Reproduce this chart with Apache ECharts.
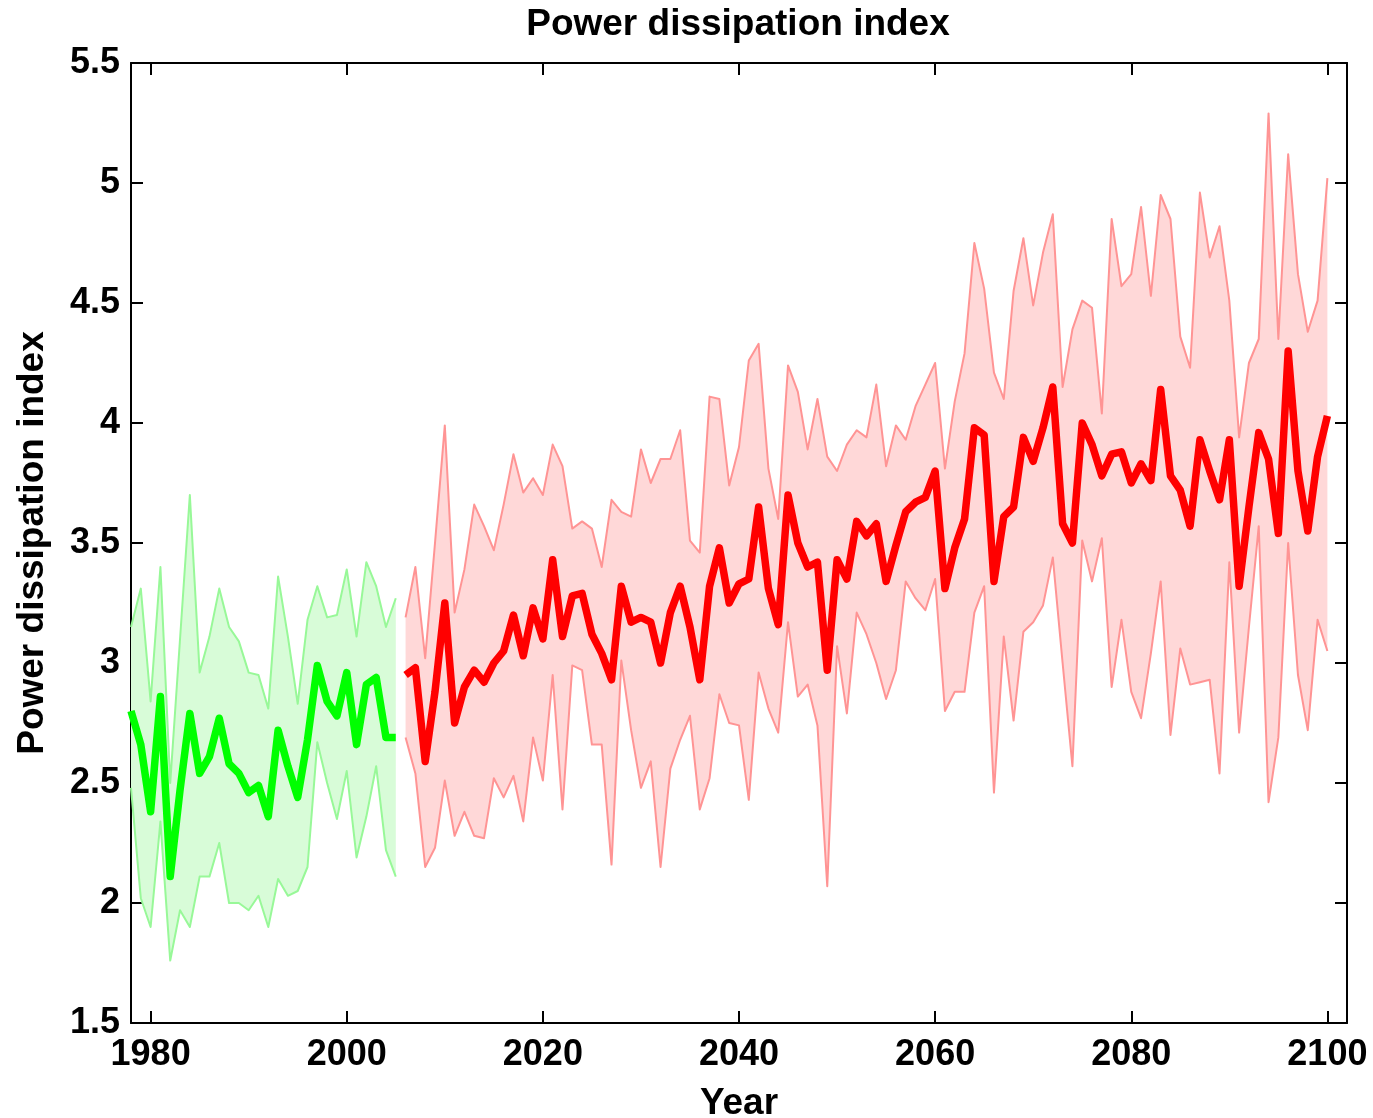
<!DOCTYPE html>
<html>
<head>
<meta charset="utf-8">
<title>Power dissipation index</title>
<script src="https://cdn.jsdelivr.net/npm/echarts@6/dist/echarts.min.js"></script>
<style>
  html, body { margin: 0; padding: 0; background: #fff; }
  #chart { width: 1373px; height: 1118px; }
</style>
</head>
<body>
<div id="chart"></div>
<script>
// 历史时期 (绿色)
var greenStart = 1978;
var greenMean = [2.80, 2.66, 2.38, 2.86, 2.11, 2.47, 2.79, 2.54, 2.61, 2.77,
                 2.58, 2.54, 2.46, 2.49, 2.36, 2.72, 2.57, 2.44, 2.68, 2.99,
                 2.84, 2.78, 2.96, 2.66, 2.91, 2.94, 2.69, 2.69];
var greenUpper = [3.15, 3.31, 2.84, 3.40, 2.50, 3.10, 3.70, 2.96, 3.11, 3.31,
                  3.15, 3.09, 2.96, 2.95, 2.81, 3.36, 3.11, 2.83, 3.18, 3.32,
                  3.19, 3.20, 3.39, 3.11, 3.42, 3.32, 3.15, 3.27];
var greenLower = [2.48, 2.02, 1.90, 2.34, 1.76, 1.97, 1.90, 2.11, 2.11, 2.25,
                  2.00, 2.00, 1.97, 2.03, 1.90, 2.10, 2.03, 2.05, 2.15, 2.67,
                  2.50, 2.35, 2.55, 2.19, 2.36, 2.57, 2.22, 2.11];

// 预估时期 (红色)
var redStart = 2006;
var redMean = [2.95, 2.98, 2.59, 2.88, 3.25, 2.75, 2.90, 2.97, 2.92, 3.00,
               3.05, 3.20, 3.03, 3.23, 3.10, 3.43, 3.11, 3.28, 3.29, 3.12,
               3.04, 2.93, 3.32, 3.17, 3.19, 3.17, 3.00, 3.21, 3.32, 3.15,
               2.93, 3.32, 3.48, 3.25, 3.33, 3.35, 3.65, 3.31, 3.16, 3.70,
               3.50, 3.40, 3.42, 2.97, 3.43, 3.35, 3.59, 3.53, 3.58, 3.34,
               3.49, 3.63, 3.67, 3.69, 3.80, 3.31, 3.48, 3.60, 3.98, 3.95,
               3.34, 3.61, 3.65, 3.94, 3.84, 3.98, 4.15, 3.58, 3.50, 4.00,
               3.91, 3.78, 3.87, 3.88, 3.75, 3.83, 3.76, 4.14, 3.78, 3.72,
               3.57, 3.93, 3.80, 3.68, 3.93, 3.32, 3.65, 3.96, 3.85, 3.54,
               4.30, 3.80, 3.55, 3.86, 4.03];
var redUpper = [3.19, 3.40, 3.02, 3.50, 3.99, 3.21, 3.39, 3.66, 3.57, 3.47,
                3.66, 3.87, 3.71, 3.77, 3.70, 3.91, 3.82, 3.56, 3.59, 3.56,
                3.40, 3.68, 3.63, 3.61, 3.89, 3.75, 3.85, 3.85, 3.97, 3.51,
                3.46, 4.11, 4.10, 3.74, 3.90, 4.26, 4.33, 3.81, 3.60, 4.24,
                4.13, 3.89, 4.10, 3.86, 3.80, 3.91, 3.97, 3.94, 4.16, 3.82,
                3.99, 3.93, 4.07, 4.16, 4.25, 3.81, 4.09, 4.29, 4.75, 4.56,
                4.21, 4.10, 4.55, 4.77, 4.49, 4.71, 4.87, 4.15, 4.39, 4.51,
                4.48, 4.04, 4.85, 4.57, 4.62, 4.90, 4.53, 4.95, 4.85, 4.36,
                4.23, 4.96, 4.69, 4.82, 4.51, 3.94, 4.25, 4.35, 5.29, 4.35,
                5.12, 4.62, 4.38, 4.51, 5.02];
var redLower = [2.69, 2.54, 2.15, 2.23, 2.51, 2.28, 2.38, 2.28, 2.27, 2.52,
                2.44, 2.53, 2.34, 2.69, 2.51, 2.95, 2.39, 2.99, 2.97, 2.66,
                2.66, 2.16, 3.01, 2.72, 2.48, 2.59, 2.15, 2.56, 2.68, 2.78,
                2.39, 2.52, 2.87, 2.75, 2.74, 2.43, 2.96, 2.81, 2.71, 3.17,
                2.86, 2.91, 2.74, 2.07, 3.07, 2.79, 3.21, 3.12, 3.00, 2.85,
                2.97, 3.34, 3.27, 3.22, 3.35, 2.80, 2.88, 2.88, 3.21, 3.32,
                2.46, 3.11, 2.76, 3.13, 3.17, 3.24, 3.44, 3.00, 2.57, 3.51,
                3.34, 3.52, 2.90, 3.18, 2.88, 2.77, 3.04, 3.34, 2.70, 3.06,
                2.91, 2.92, 2.93, 2.54, 3.42, 2.71, 3.15, 3.57, 2.42, 2.69,
                3.50, 2.95, 2.72, 3.18, 3.05];

var xTicks = [1980, 2000, 2020, 2040, 2060, 2080, 2100];

(function () {
  var myChart = echarts.init(document.getElementById("chart"));
  var font = "'Liberation Sans', Arial, sans-serif";

  function pairs(start, arr) {
    return arr.map(function (v, i) { return [start + i, v]; });
  }

  // 上下界之间的填充区域
  function band(start, lower, upper, color) {
    return {
      type: "custom",
      z: 1,
      silent: true,
      data: [[start, lower[0]]],
      renderItem: function (params, api) {
        var pts = [];
        for (var i = 0; i < upper.length; i++) {
          pts.push(api.coord([start + i, upper[i]]));
        }
        for (var j = lower.length - 1; j >= 0; j--) {
          pts.push(api.coord([start + j, lower[j]]));
        }
        return { type: "polygon", shape: { points: pts }, style: { fill: color } };
      },
    };
  }

  function line(start, arr, color, width, z) {
    return {
      type: "line",
      z: z,
      silent: true,
      symbol: "none",
      data: pairs(start, arr),
      lineStyle: { color: color, width: width, join: "round" },
    };
  }

  const axisLine = { show: true, onZero: false, lineStyle: { color: "#000", width: 2 } };
  const tick = { show: true, inside: true, length: 12, lineStyle: { color: "#000", width: 2 } };
  const label = { color: "#000", fontSize: 36, fontWeight: "bold", fontFamily: font };
  const nameStyle = { color: "#000", fontSize: 37, fontWeight: "bold", fontFamily: font };

  option = {
    animation: false,
    backgroundColor: "#fff",
    title: {
      text: "Power dissipation index",
      left: 733,
      top: 1,
      textAlign: "center",
      textStyle: nameStyle,
    },
    grid: { left: 131, right: 26, top: 63, bottom: 95, containLabel: false, outerBoundsMode: "none" },
    xAxis: [
      {
        type: "value",
        min: 1978,
        max: 2102,
        name: "Year",
        nameLocation: "middle",
        nameGap: 62,
        nameTextStyle: nameStyle,
        axisLine: axisLine,
        axisTick: Object.assign({ customValues: xTicks }, tick),
        axisLabel: Object.assign({
          customValues: xTicks,
          margin: 14,
          formatter: function (v) { return String(v); },
        }, label),
        splitLine: { show: false },
      },
      {
        type: "value",
        position: "top",
        min: 1978,
        max: 2102,
        axisLine: axisLine,
        axisTick: Object.assign({ customValues: xTicks }, tick),
        axisLabel: { show: false },
        splitLine: { show: false },
      },
    ],
    yAxis: [
      {
        type: "value",
        min: 1.5,
        max: 5.5,
        interval: 0.5,
        name: "Power dissipation index",
        nameLocation: "middle",
        nameRotate: 90,
        nameGap: 80,
        nameTextStyle: nameStyle,
        axisLine: axisLine,
        axisTick: tick,
        axisLabel: Object.assign({ margin: 11 }, label),
        splitLine: { show: false },
      },
      {
        type: "value",
        position: "right",
        min: 1.5,
        max: 5.5,
        interval: 0.5,
        axisLine: axisLine,
        axisTick: tick,
        axisLabel: { show: false },
        splitLine: { show: false },
      },
    ],
    series: [
      band(greenStart, greenLower, greenUpper, "#d8fcd8"),
      band(redStart, redLower, redUpper, "#ffd8d8"),
      line(greenStart, greenUpper, "#98f898", 2, 2),
      line(greenStart, greenLower, "#98f898", 2, 2),
      line(redStart, redUpper, "#ff9494", 2, 2),
      line(redStart, redLower, "#ff9494", 2, 2),
      line(greenStart, greenMean, "#00ff00", 7.5, 3),
      line(redStart, redMean, "#ff0000", 7.5, 3),
    ],
  };
  myChart.setOption(option);
  window.addEventListener("resize", function () {
    myChart.resize();
  });
})();
</script>
</body>
</html>
